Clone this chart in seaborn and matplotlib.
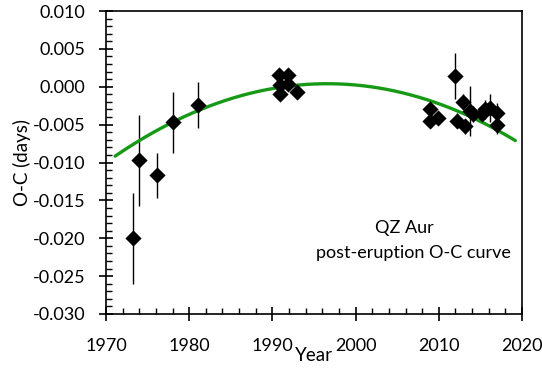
import numpy as np
import pandas as pd
import matplotlib
matplotlib.use("Agg")
import matplotlib.pyplot as plt
from matplotlib.ticker import MultipleLocator, FormatStrFormatter
import seaborn as sns

# ---- data ----
years = [1973.2, 1974.0, 1976.1, 1978.0, 1981.1,
         1990.8, 1990.9, 1990.9, 1991.9, 1991.9, 1992.9,
         2008.9, 2008.9, 2009.9, 2012.0, 2012.2, 2012.9, 2013.1,
         2013.8, 2014.1, 2015.2, 2015.6, 2016.2, 2017.0, 2017.0]
oc = [-0.0200, -0.0097, -0.0117, -0.0047, -0.0024,
      0.0015, 0.0002, -0.0009, 0.0015, 0.0004, -0.0007,
      -0.0030, -0.0045, -0.0041, 0.0014, -0.0045, -0.0020, -0.0052,
      -0.0032, -0.0036, -0.0036, -0.0030, -0.0028, -0.0034, -0.0050]
err = [0.0060, 0.0060, 0.0030, 0.0040, 0.0030,
       0.0005, 0.0005, 0.0005, 0.0006, 0.0005, 0.0005,
       0.0008, 0.0008, 0.0008, 0.0030, 0.0010, 0.0010, 0.0010,
       0.0033, 0.0010, 0.0010, 0.0012, 0.0018, 0.0012, 0.0012]

# quadratic trend curve (vertex form)
curve_peak_year = 1996.6
curve_peak_value = 0.0004
curve_a = -1.47e-5
curve_range = [1971.1, 2019.2]

xticks = [1970, 1980, 1990, 2000, 2010, 2020]
yticks = [0.010, 0.005, 0.000, -0.005, -0.010, -0.015, -0.020, -0.025, -0.030]

sns.set_theme(style="white")
plt.rcParams['font.family'] = ['Lato', 'DejaVu Sans']

df = pd.DataFrame({"Year": years, "OC": oc, "err": err})
cx = np.linspace(curve_range[0], curve_range[1], 200)
cdf = pd.DataFrame({"Year": cx,
                    "OC": curve_a * (cx - curve_peak_year) ** 2 + curve_peak_value})

fig = plt.figure(figsize=(5.42, 3.69), dpi=100)
ax = fig.add_axes([106 / 542, 1 - 314 / 369, (522 - 106) / 542, (314 - 11) / 369])

ax.errorbar(df["Year"], df["OC"], yerr=df["err"], fmt="none",
            ecolor="black", elinewidth=1.0, capsize=0, zorder=2)
sns.lineplot(data=cdf, x="Year", y="OC", ax=ax, color="#169a16",
             linewidth=2.4, zorder=3)
sns.scatterplot(data=df, x="Year", y="OC", ax=ax, marker="D", s=68,
                color="black", edgecolor="black", linewidth=0, zorder=4)

ax.set_xlim(1970, 2020)
ax.set_ylim(-0.030, 0.010)
ax.set_xticks(xticks)
ax.set_yticks(yticks)
ax.yaxis.set_major_formatter(FormatStrFormatter("%.3f"))
ax.xaxis.set_minor_locator(MultipleLocator(2))
ax.yaxis.set_minor_locator(MultipleLocator(0.001))

for s in ax.spines.values():
    s.set_color("black")
    s.set_linewidth(1.2)

ax.tick_params(axis="both", which="major", direction="inout", length=10,
               width=1.2, color="black", labelsize=13, labelcolor="black")
ax.tick_params(axis="x", which="major", pad=12)
ax.tick_params(axis="y", which="major", pad=10)
ax.tick_params(axis="both", which="minor", direction="in", length=4,
               width=1.0, color="black")
ax.tick_params(top=False, right=False, which="both")
ax.tick_params(bottom=True, left=True, which="both")

ax.set_xlabel("Year", fontsize=13.5, color="black", labelpad=-5)
ax.set_ylabel("O-C (days)", fontsize=13.5, color="black", labelpad=1)

ax.text(2005.9, -0.0186, "QZ Aur", ha="center", va="center", fontsize=13,
        color="black")
ax.text(2006.9, -0.0219, "post-eruption O-C curve", ha="center", va="center",
        fontsize=13, color="black")

fig.savefig("out.png", dpi=100)
